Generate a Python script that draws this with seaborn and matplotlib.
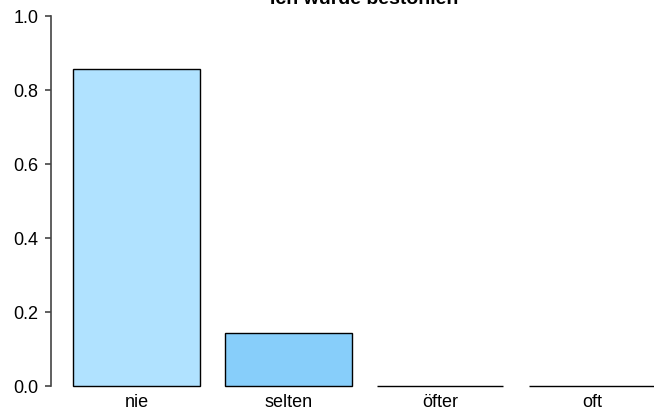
import pandas as pd
import matplotlib
matplotlib.use('Agg')
import matplotlib.pyplot as plt
import seaborn as sns

# values
categories = ['nie', 'selten', 'öfter', 'oft']
shares = [0.857, 0.143, 0.0, 0.0]
bar_colors = ['#B0E2FF', '#87CEFA', '#5CACEE', '#1E90FF']
title = 'Ich wurde bestohlen'

df = pd.DataFrame({'Antwort': categories, 'Anteil': shares})

sns.set_style('white')
plt.rcParams['font.family'] = ['Liberation Sans', 'DejaVu Sans']

fig = plt.figure(figsize=(6.54, 4.10), dpi=100)
ax = fig.add_axes([50.5 / 654, 23 / 410, 627.5 / 654, 370 / 410])

sns.barplot(data=df, x='Antwort', y='Anteil', hue='Antwort', order=categories,
            hue_order=categories, palette=bar_colors, legend=False,
            width=1 / 1.2, edgecolor='black', linewidth=1.0, saturation=1, ax=ax)
# zero-height bars sit on the lower limit, so keep their edges unclipped
for patch in ax.patches:
    patch.set_clip_on(False)

ax.set_xlim(-0.566, 3.566)
ax.set_ylim(0, 1)
ax.set_yticks([0, 0.2, 0.4, 0.6, 0.8, 1.0])
ax.set_yticklabels(['0.0', '0.2', '0.4', '0.6', '0.8', '1.0'])
ax.set_xlabel('')
ax.set_ylabel('')
ax.set_title(title, fontsize=14, fontweight='bold', pad=9, color='black')

for side in ['top', 'right', 'bottom']:
    ax.spines[side].set_visible(False)
ax.spines['left'].set_color('#444444')
ax.spines['left'].set_linewidth(1.2)
ax.tick_params(axis='y', left=True, length=4.5, width=1.2, color='#444444',
               pad=4, labelsize=13, labelcolor='black')
ax.tick_params(axis='x', bottom=False, length=0, pad=5, labelsize=13,
               labelcolor='black')

fig.savefig('out.png', dpi=100)
